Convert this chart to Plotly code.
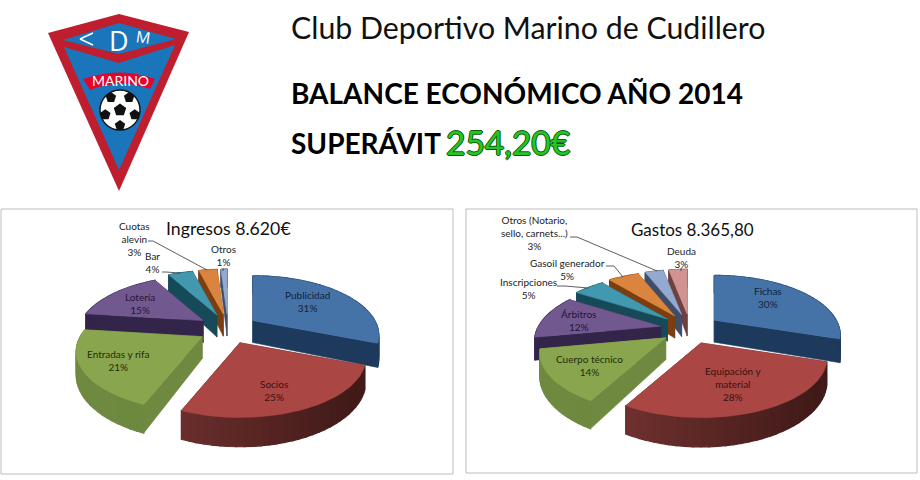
import math
import plotly.graph_objects as go

# ---- data ----
ingresos_labels = ["Publicidad", "Socios", "Entradas y rifa", "Lotería", "Bar", "Cuotas<br>alevin", "Otros"]
ingresos_values = [31, 25, 21, 15, 4, 3, 1]
gastos_labels = ["Fichas", "Equipación y<br>material", "Cuerpo técnico", "Árbitros", "Inscripciones",
                 "Gasoil generador", "Otros (Notario,<br>sello, carnets...)", "Deuda"]
gastos_values = [30, 28, 14, 12, 5, 5, 3, 3]
ingresos_title = "Ingresos 8.620€"
gastos_title = "Gastos 8.365,80"

# ---- styling ----
TOP = ["#4572A7", "#AA4643", "#89A54E", "#71588F", "#4198AF", "#DB843D", "#93A9CF", "#D19392"]
WALL_L = ["#1d3a5c", "#7d3735", "#6f8a40", "#33244a", "#174a58", "#7a3e10", "#3f4e68", "#6d4140"]
WALL_R = ["#1d3a5c", "#421b19", "#5f7a38", "#33244a", "#174a58", "#7a3e10", "#3f4e68", "#6d4140"]
TXT = ["#0f2340", "#3a1210", "#1f2e08", "#24163a", "#222222", "#222222", "#222222", "#222222"]

A, B, K, DEPTH, EX, EY = 122, 56, 0.25, 22, 30, 15


def hexmix(c1, c2, t):
    a = [int(c1[i:i + 2], 16) for i in (1, 3, 5)]
    b = [int(c2[i:i + 2], 16) for i in (1, 3, 5)]
    return "#%02x%02x%02x" % tuple(round(a[i] + (b[i] - a[i]) * t) for i in range(3))


fig = go.Figure()


def poly(xs, ys, color, w=0.6):
    fig.add_trace(go.Scatter(x=list(xs) + [xs[0]], y=list(ys) + [ys[0]], mode="lines", fill="toself",
                             fillcolor=color, line=dict(color=color, width=w),
                             hoverinfo="skip", showlegend=False))


def project(theta, ax, ay, r=1.0):
    u, v = r * math.sin(theta), -r * math.cos(theta)
    s = 1 / (1 - K * v)
    return ax + A * u * s, ay + B * v * s, s


def draw_pie(values, cx, cy):
    total = sum(values)
    slices, acc = [], 0
    for i, val in enumerate(values):
        t0 = acc / total * 2 * math.pi
        acc += val
        t1 = acc / total * 2 * math.pi
        slices.append((i, t0, t1))
    slices.sort(key=lambda p: -math.cos((p[1] + p[2]) / 2))
    for i, t0, t1 in slices:
        bis = (t0 + t1) / 2
        ax, ay = cx + EX * math.sin(bis), cy - EY * math.cos(bis)
        n = max(3, int((t1 - t0) / 0.05))
        pts = [project(t0 + (t1 - t0) * j / n, ax, ay) for j in range(n + 1)]
        # radial walls
        for p in (pts[0], pts[-1]):
            poly([ax, p[0], p[0], ax], [ay, p[1], p[1] + DEPTH * p[2], ay + DEPTH], WALL_L[i] if i != 1 else "#5a2826")
        # outer wall
        for p, q in zip(pts[:-1], pts[1:]):
            t = min(1, max(0, (p[0] - (cx - A)) / (2 * A)))
            poly([p[0], q[0], q[0], p[0]], [p[1], q[1], q[1] + DEPTH * q[2], p[1] + DEPTH * p[2]],
                 hexmix(WALL_L[i], WALL_R[i], t), w=1.2)
        # top face
        poly([ax] + [p[0] for p in pts], [ay] + [p[1] for p in pts], TOP[i])


draw_pie(ingresos_values, 228, 329)
draw_pie(gastos_values, 690, 329)


def leader(xs, ys):
    fig.add_trace(go.Scatter(x=xs, y=ys, mode="lines", line=dict(color="#333333", width=0.8),
                             hoverinfo="skip", showlegend=False))


leader([148, 153, 207], [241, 241, 270])
leader([162, 166, 180], [272, 272, 273])
leader([223, 223], [268, 271])
leader([570, 577, 657], [237, 237, 271])
leader([606, 614, 623], [266, 266, 277])
leader([557, 565, 588], [286, 286, 288])
leader([681, 681], [268, 271])

annotations = []


def text(s, x, y, size, color="#111111", family="Open Sans", bold=False, **kw):
    s2 = f"<b>{s}</b>" if bold else s
    annotations.append(dict(text=s2, x=x, y=y, xref="x", yref="y", showarrow=False,
                            font=dict(size=size, color=color, family=family, **kw.pop("fontkw", {})),
                            align="center", xanchor=kw.pop("xanchor", "center"), yanchor="middle", **kw))


ing_pos = [(307, 301), (274, 390), (118, 360), (140, 303), (152, 262), (134, 239), (223, 255)]
gas_pos = [(768, 297), (733, 384), (589, 365), (578, 320), (528, 288), (567, 269), (534, 233), (681, 257)]
LBL_FONT = "Lato"
for i, (lab, val) in enumerate(zip(ingresos_labels, ingresos_values)):
    text(f"{lab}<br>{val}%", ing_pos[i][0], ing_pos[i][1], 10, TXT[i], LBL_FONT)
for i, (lab, val) in enumerate(zip(gastos_labels, gastos_values)):
    text(f"{lab}<br>{val}%", gas_pos[i][0], gas_pos[i][1], 10, TXT[i], LBL_FONT)
text(ingresos_title, 228, 228, 17.7, "#111111", "Lato")
text(gastos_title, 692, 229, 17, "#111111", "Lato")

text("Club Deportivo Marino de Cudillero", 289, 27, 30.3, "#111111", "Lato", xanchor="left")
text("BALANCE ECONÓMICO AÑO 2014", 289, 93, 28, "#000000", "Lato", bold=True, xanchor="left")
text("SUPERÁVIT", 289, 143, 28, "#000000", "Lato", bold=True, xanchor="left")
text("254,20€", 444, 142, 33.5, "#24c524", "Lato", xanchor="left",
     fontkw=dict(shadow="1px 0 0 #0a5a0a, -1px 0 0 #0a5a0a, 0 1px 0 #0a5a0a, 0 -1px 0 #0a5a0a"))

# logo text
LOGO_RED, LOGO_BLUE = "#be1e2d", "#1b75bb"
text("D", 119, 40, 27, "white", "Open Sans")
text("M", 143, 37, 16, "white", "Open Sans", textangle=8)
text("MARINO", 120, 80, 14, "white", "Lato")


def path(d, fill, line=None, w=0.8):
    return dict(type="path", path=d, xref="x", yref="y", fillcolor=fill,
                line=dict(color=line or fill, width=w if line else 0), layer="below")


def pent(x, y, r, rot=0.0):
    pts = [(x + r * math.sin(rot + k * 2 * math.pi / 5), y - r * math.cos(rot + k * 2 * math.pi / 5)) for k in range(5)]
    return "M" + " L".join(f"{a:.1f},{b:.1f}" for a, b in pts) + " Z"


shapes = [
    dict(type="rect", x0=1, y0=209, x1=453, y1=474, xref="x", yref="y", line=dict(color="#bdbdbd", width=1), layer="below"),
    dict(type="rect", x0=466, y0=209, x1=917, y1=473, xref="x", yref="y", line=dict(color="#bdbdbd", width=1), layer="below"),
    path("M48,33 L119,14 L189,32 L119,191 Z", LOGO_RED),
    path("M63,40 L119,23 L176,39 L119,54 Z", LOGO_BLUE),
    path("M64,47 L119,63 L175,45 L119,170 Z", LOGO_BLUE),
    path("M83,79 Q120,66 155,79 L150,89 Q120,78 90,90 Z", "#e2062c"),
    dict(type="line", x0=93, y0=33, x1=80, y1=39, xref="x", yref="y", line=dict(color="white", width=1.5), layer="below"),
    dict(type="line", x0=80, y0=39, x1=93, y1=45, xref="x", yref="y", line=dict(color="white", width=1.5), layer="below"),
    dict(type="circle", x0=100, y0=90, x1=140, y1=130, xref="x", yref="y", fillcolor="white",
         line=dict(color="#111111", width=1.4), layer="below"),
    path(pent(120, 110, 6.5), "#111111"),
]
for k in range(5):
    ang = math.pi / 5 + k * 2 * math.pi / 5
    shapes.append(path(pent(120 + 15.5 * math.sin(ang), 110 - 15.5 * math.cos(ang), 5.5, ang + math.pi), "#111111"))

fig.update_layout(
    width=920, height=480, margin=dict(l=0, r=0, t=0, b=0), autosize=False,
    paper_bgcolor="white", plot_bgcolor="white", showlegend=False,
    xaxis=dict(range=[0, 920], visible=False, fixedrange=True),
    yaxis=dict(range=[480, 0], visible=False, fixedrange=True),
    annotations=annotations, shapes=shapes,
)
fig.write_html("out.html", config=dict(displayModeBar=False),
               post_script="document.body.style.margin='0';document.documentElement.style.overflow='hidden';")
